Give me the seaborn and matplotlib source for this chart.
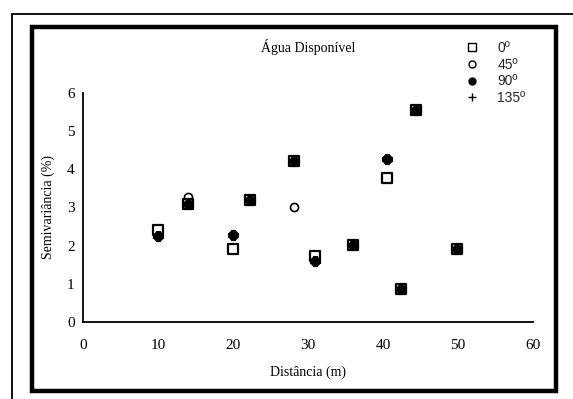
import matplotlib
matplotlib.use("Agg")
import matplotlib.pyplot as plt
from matplotlib.patches import Rectangle
from matplotlib.lines import Line2D
import seaborn as sns
import pandas as pd

sns.set_theme(style="white")
plt.rcParams["font.family"] = ["Liberation Serif", "DejaVu Serif"]

# Semivariance (%) by lag distance (m) for four directions
dist_0 = [10, 14, 20, 22.3, 28.2, 31, 36, 40.5, 42.4, 44.4, 49.9]
semi_0 = [2.4, 3.1, 1.9, 3.2, 4.23, 1.74, 2.03, 3.77, 0.87, 5.55, 1.9]

dist_45 = [10, 14, 20, 22.3, 28.2, 31, 36, 40.5, 42.4, 44.4, 49.9]
semi_45 = [2.25, 3.28, 2.27, 3.2, 3.02, 1.59, 2.03, 4.27, 0.87, 5.55, 1.9]

dist_90 = [10, 14, 20, 22.3, 28.2, 31, 36, 40.5, 42.4, 44.4, 49.9]
semi_90 = [2.25, 3.1, 2.27, 3.2, 4.23, 1.59, 2.03, 4.27, 0.87, 5.55, 1.9]

dist_135 = [10, 14, 20, 22.3, 28.2, 31, 36, 40.5, 42.4, 44.4, 49.9]
semi_135 = [2.25, 3.1, 2.27, 3.2, 4.23, 1.59, 2.03, 4.27, 0.87, 5.55, 1.9]

directions = ["0º", "45º", "90º", "135º"]
x_ticks = [0, 10, 20, 30, 40, 50, 60]
y_ticks = [0, 1, 2, 3, 4, 5, 6]

frames = []
for name, d, s in zip(directions,
                      [dist_0, dist_45, dist_90, dist_135],
                      [semi_0, semi_45, semi_90, semi_135]):
    frames.append(pd.DataFrame({"dist": d, "semi": s, "dir": name}))
df = pd.concat(frames, ignore_index=True)

fig = plt.figure(figsize=(5.73, 3.99), dpi=100)
ax = fig.add_axes([0.1449, 0.193, 0.785, 0.574])

styles = {
    "45º": dict(marker="o", facecolor="white", edgecolor="black", s=34, linewidth=1.2),
    "0º": dict(marker="s", facecolor="white", edgecolor="black", s=52, linewidth=1.6),
    "90º": dict(marker="o", facecolor="black", edgecolor="black", s=40, linewidth=1.0),
    "135º": dict(marker="P", facecolor="black", edgecolor="black", s=44, linewidth=0.8),
}
for name in ["45º", "0º", "90º", "135º"]:
    sub = df[df["dir"] == name]
    st = styles[name]
    sns.scatterplot(data=sub, x="dist", y="semi", ax=ax, marker=st["marker"],
                    color=st["facecolor"], edgecolor=st["edgecolor"],
                    s=st["s"], linewidth=st["linewidth"], legend=False, zorder=3)

ax.set_xlim(0, 60)
ax.set_ylim(0, 6)
ax.set_xticks(x_ticks)
ax.set_yticks(y_ticks)
ax.tick_params(axis="both", direction="inout", length=4, width=1.0,
               colors="black", labelsize=11)
ax.tick_params(axis="x", pad=10)
ax.tick_params(axis="y", pad=4)
for side in ["top", "right"]:
    ax.spines[side].set_visible(False)
for side in ["left", "bottom"]:
    ax.spines[side].set_color("black")
    ax.spines[side].set_linewidth(1.3)
ax.set_xlabel("Distância (m)", fontsize=10, labelpad=10, color="black")
ax.set_ylabel("Semivariância (%)", fontsize=10, labelpad=9, color="black")
ax.set_facecolor("white")

fig.text(0.538, 0.883, "Água Disponível", ha="center", va="center",
         fontsize=10, color="black")

handles = [
    Line2D([], [], linestyle="none", marker="s", markerfacecolor="white",
           markeredgecolor="black", markersize=5.5, markeredgewidth=1.0),
    Line2D([], [], linestyle="none", marker="o", markerfacecolor="white",
           markeredgecolor="black", markersize=5, markeredgewidth=1.0),
    Line2D([], [], linestyle="none", marker="o", markerfacecolor="black",
           markeredgecolor="black", markersize=5),
    Line2D([], [], linestyle="none", marker="+", color="black",
           markersize=6, markeredgewidth=1.0),
]
fig.legend(handles, directions, loc="upper left", bbox_to_anchor=(0.80, 0.915),
           frameon=False, handlelength=1.0, handletextpad=1.3,
           labelspacing=0.2, borderpad=0,
           prop={"family": ["Liberation Sans", "DejaVu Sans"], "size": 10})

# Frames around the chart
fig.add_artist(Rectangle((32 / 573, 1 - 391 / 399), (556 - 32) / 573, (391 - 27) / 399,
                         transform=fig.transFigure, fill=False,
                         edgecolor="black", linewidth=3.2))
fig.add_artist(Line2D([12 / 573, 12 / 573], [0, 1 - 14 / 399],
                      transform=fig.transFigure, color="black", linewidth=1.3))
fig.add_artist(Line2D([12 / 573, 1], [1 - 14 / 399, 1 - 14 / 399],
                      transform=fig.transFigure, color="black", linewidth=1.3))

fig.savefig("out.png", dpi=100, facecolor="white")
